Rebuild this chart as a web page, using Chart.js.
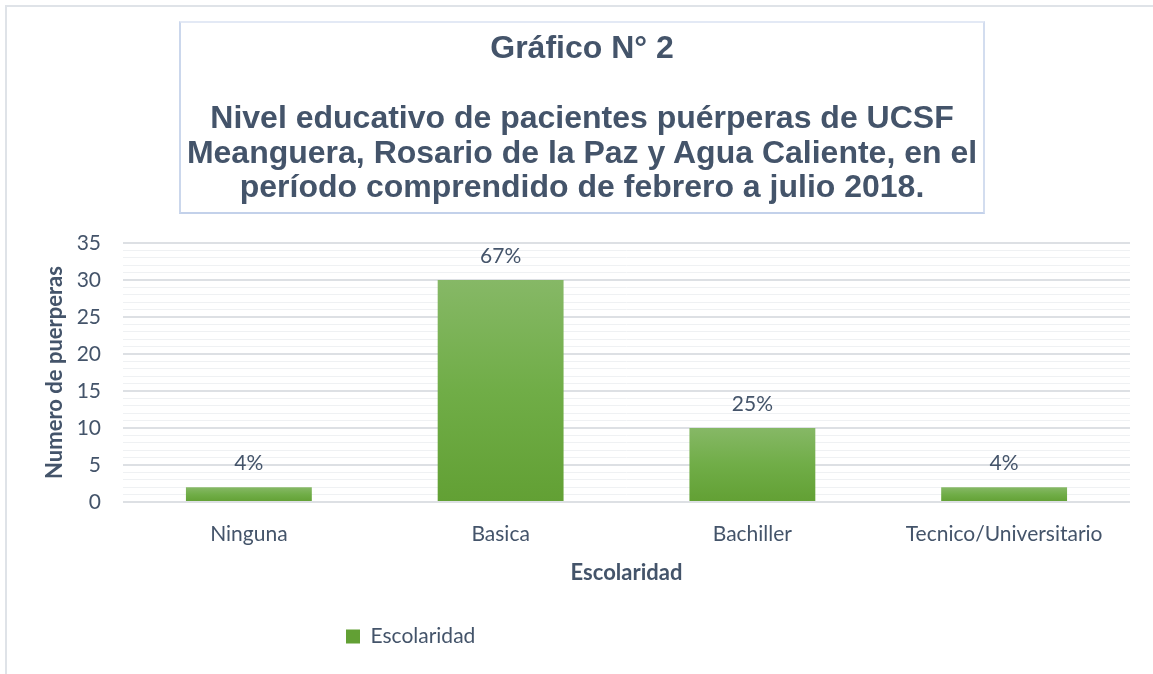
<!DOCTYPE html>
<html>
<head>
<meta charset="utf-8">
<script src="https://cdn.jsdelivr.net/npm/chart.js@4.4.1/dist/chart.umd.min.js"></script>
<style>
  html, body { margin: 0; padding: 0; background: #ffffff; }
  #wrap { position: relative; width: 1153px; height: 674px; overflow: hidden; background: #fff; }
  #frame { position: absolute; left: 5px; top: 5px; width: 1200px; height: 700px;
           border-left: 2px solid #dfe3e8; border-top: 2px solid #dfe3e8; }
  #chart { position: absolute; left: 0; top: 0; }
  #titlebox { position: absolute; left: 179px; top: 21px; width: 802px; height: 189px;
              border: 2px solid #e3e9f5; border-left-color: #cbd7ec; border-bottom-color: #c3d1ea; border-right-color: #d3ddef; }
  .ttl { position: absolute; left: 179px; width: 806px; text-align: center;
         font-family: 'Liberation Sans', Arial, sans-serif; font-weight: bold; font-size: 32px;
         color: #44546A; white-space: nowrap; }
  #t1 { top: 29px; line-height: 36px; }
  #t2 { top: 100px; line-height: 34.5px; }
</style>
</head>
<body>
<div id="wrap">
  <div id="frame"></div>
  <canvas id="chart" width="1153" height="674"></canvas>
  <div id="titlebox"></div>
  <div class="ttl" id="t1">Gráfico N° 2</div>
  <div class="ttl" id="t2">Nivel educativo de pacientes puérperas de UCSF<br>Meanguera, Rosario de la Paz y Agua Caliente, en el<br>período comprendido de febrero a julio 2018.</div>
</div>
<script>
const categories = ['Ninguna', 'Basica', 'Bachiller', 'Tecnico/Universitario'];
const counts = [2, 30, 10, 2];
const percentLabels = ['4%', '67%', '25%', '4%'];
const yTickLabels = [0, 5, 10, 15, 20, 25, 30, 35];
const seriesName = 'Escolaridad';
const xTitle = 'Escolaridad';
const yTitle = 'Numero de puerperas';

const TEXT = '#44546A';
const FONT = 'Lato, "Open Sans", sans-serif';

const barGradient = (ctx) => {
  const chart = ctx.chart;
  if (!chart.chartArea || ctx.type !== 'data') return '#70AD47';
  const y = chart.scales.y;
  const top = y.getPixelForValue(ctx.raw);
  const bot = y.getPixelForValue(0);
  if (!isFinite(top) || !isFinite(bot) || top === bot) return '#70AD47';
  const g = chart.ctx.createLinearGradient(0, top, 0, bot);
  g.addColorStop(0, '#86B866');
  g.addColorStop(0.5, '#70AD47');
  g.addColorStop(1, '#62A034');
  return g;
};

const dataLabels = {
  id: 'dataLabels',
  afterDatasetsDraw(chart) {
    const c = chart.ctx;
    const meta = chart.getDatasetMeta(0);
    c.save();
    c.font = '21px ' + FONT;
    c.fillStyle = TEXT;
    c.textAlign = 'center';
    c.textBaseline = 'middle';
    meta.data.forEach((bar, i) => {
      c.fillText(percentLabels[i], bar.x, bar.y - 24);
    });
    c.restore();
  }
};

const legendPlace = {
  id: 'legendPlace',
  beforeDraw(chart) {
    const lg = chart.legend;
    if (!lg) return;
    const pad = lg.options.labels.padding;
    lg.left = 346 - pad;
    lg.top = 626 - pad;
    lg.right = lg.left + lg.width;
    lg.bottom = lg.top + lg.height;
  }
};

new Chart(document.getElementById('chart'), {
  type: 'bar',
  data: {
    labels: categories,
    datasets: [{
      label: seriesName,
      data: counts,
      backgroundColor: barGradient,
      borderWidth: 0,
      barPercentage: 0.5,
      categoryPercentage: 1.0
    }]
  },
  options: {
    responsive: false,
    animation: false,
    devicePixelRatio: 1,
    layout: { padding: { left: 0, right: 23, top: 243, bottom: 0 } },
    plugins: {
      title: { display: false },
      tooltip: { enabled: false },
      legend: {
        display: true,
        position: 'chartArea',
        align: 'start',
        labels: {
          boxWidth: 14, boxHeight: 14, padding: 8,
          color: TEXT,
          font: { family: FONT, size: 21 }
        }
      }
    },
    scales: {
      x: {
        grid: { display: false },
        border: { display: false },
        ticks: { color: TEXT, font: { family: FONT, size: 21 }, padding: 12, maxRotation: 0, autoSkip: false },
        title: { display: true, text: xTitle, color: TEXT, font: { family: FONT, size: 22, weight: 'bold' }, padding: { top: 0, bottom: 88 } },
        afterFit(scale) { scale.height = 172; }
      },
      y: {
        min: 0, max: 35,
        border: { display: false },
        grid: {
          drawTicks: false,
          color: (ctx) => (ctx.tick && yTickLabels.includes(ctx.tick.value)) ? '#dde0e4' : '#eff1f3',
          lineWidth: (ctx) => (ctx.tick && yTickLabels.includes(ctx.tick.value)) ? 2 : 1
        },
        ticks: {
          stepSize: 1, autoSkip: false, padding: 22, color: TEXT,
          font: { family: FONT, size: 21 },
          callback: (v) => yTickLabels.includes(v) ? String(v) : ''
        },
        title: { display: true, text: yTitle, color: TEXT, font: { family: FONT, size: 22, weight: 'bold' }, padding: { top: 42, bottom: 0 } },
        afterFit(scale) { scale.width = 123; }
      }
    }
  },
  plugins: [dataLabels, legendPlace]
});
</script>
</body>
</html>
